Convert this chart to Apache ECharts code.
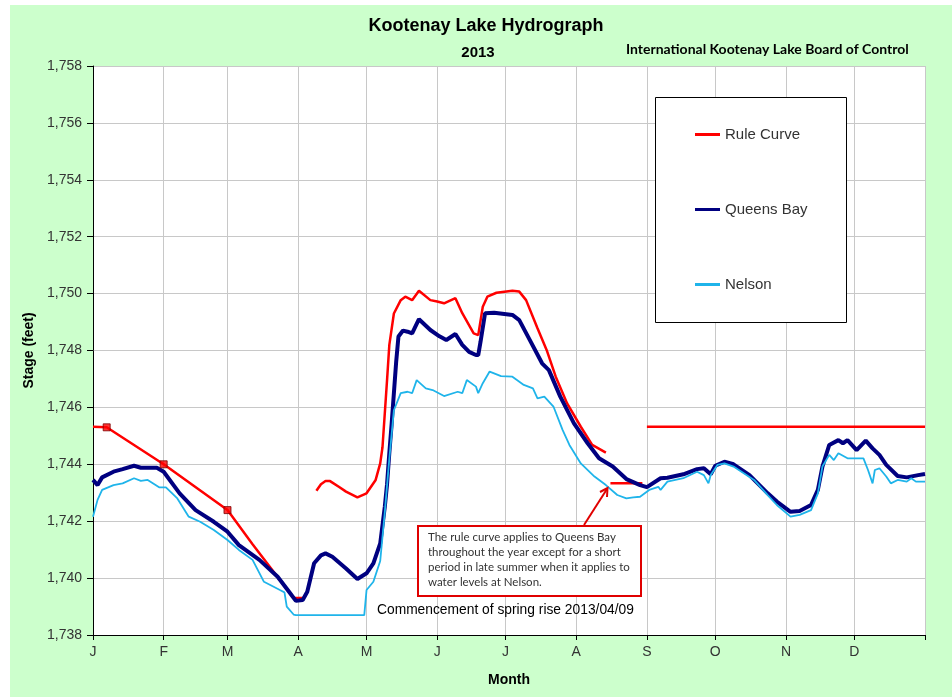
<!DOCTYPE html>
<html>
<head>
<meta charset="utf-8">
<script src="https://cdn.jsdelivr.net/npm/echarts@6/dist/echarts.min.js"></script>
<style>
html,body{margin:0;padding:0;background:#fff;}
#c{width:952px;height:697px;background:linear-gradient(#ccffcc,#ccffcc) 10px 5px / 942px 692px no-repeat,#ffffff;}
</style>
</head>
<body>
<div id="c"></div>
<script>
// ---- axis / tick labels ----
const monthLabels = ['J','F','M','A','M','J','J','A','S','O','N','D'];
const monthStarts = [0,31,59,90,120,151,181,212,243,273,304,334];
const dayCount = 365;
const yMin = 1738, yMax = 1758, yStep = 2;

// ---- series values: [day of year, stage (feet)] ----
const ruleCurveWinter = [[0,1745.32],[6,1745.3],[31,1744.0],[59,1742.39],[70,1741.19],[82,1739.93],[88,1739.3],[92,1739.3]];
const ruleCurveSpring = [[98,1743.07],[100,1743.3],[102,1743.41],[104,1743.41],[108,1743.2],[111,1743.04],[116,1742.84],[120,1742.98],[124,1743.45],[126,1744.03],[127,1744.6],[129,1746.96],[130,1748.2],[132,1749.3],[135,1749.77],[137,1749.89],[140,1749.77],[143,1750.1],[148,1749.77],[151,1749.72],[154,1749.66],[159,1749.84],[162,1749.31],[167,1748.6],[169,1748.54],[171,1749.54],[173,1749.89],[177,1750.03],[184,1750.1],[187,1750.07],[190,1749.77],[195,1748.78],[199,1748.02],[203,1747.08],[208,1746.14],[214,1745.32],[219,1744.68],[225,1744.41]];
const ruleCurveNelson = [[227,1743.33],[241,1743.33]];
const ruleCurveFall = [[243,1745.32],[365,1745.32]];
const ruleMarkers = [[6,1745.3],[31,1744.0],[59,1742.39]];

const queensBay = [[0,1743.45],[2,1743.27],[4,1743.54],[9,1743.74],[13,1743.83],[18,1743.95],[21,1743.88],[28,1743.88],[31,1743.74],[38,1742.98],[45,1742.39],[53,1741.98],[59,1741.63],[64,1741.16],[73,1740.64],[81,1740.05],[86,1739.52],[89,1739.2],[92,1739.23],[94,1739.52],[97,1740.52],[100,1740.8],[102,1740.87],[105,1740.75],[111,1740.34],[116,1739.97],[120,1740.17],[123,1740.52],[126,1741.22],[128,1742.5],[129,1743.3],[130,1744.4],[131,1745.4],[132,1746.5],[133,1747.6],[134,1748.49],[136,1748.7],[138,1748.66],[140,1748.6],[143,1749.1],[148,1748.72],[152,1748.5],[155,1748.37],[159,1748.58],[162,1748.2],[165,1747.95],[168,1747.84],[169,1747.84],[170,1748.3],[172,1749.31],[176,1749.33],[184,1749.25],[187,1749.07],[192,1748.31],[197,1747.55],[200,1747.31],[205,1746.38],[211,1745.44],[217,1744.74],[222,1744.21],[228,1743.92],[234,1743.48],[240,1743.27],[243,1743.2],[249,1743.51],[252,1743.53],[259,1743.65],[265,1743.83],[268,1743.86],[271,1743.65],[273,1743.95],[277,1744.09],[281,1744.0],[288,1743.62],[296,1742.98],[300,1742.69],[306,1742.33],[310,1742.36],[315,1742.57],[318,1743.1],[320,1743.92],[323,1744.68],[327,1744.85],[329,1744.74],[331,1744.85],[335,1744.5],[339,1744.83],[342,1744.56],[345,1744.33],[348,1743.98],[353,1743.59],[357,1743.54],[362,1743.62],[365,1743.66]];

const nelson = [[0,1742.16],[2,1742.75],[4,1743.1],[9,1743.27],[13,1743.33],[18,1743.51],[21,1743.42],[24,1743.45],[29,1743.19],[32,1743.19],[37,1742.8],[42,1742.16],[47,1741.98],[53,1741.69],[59,1741.34],[64,1740.99],[70,1740.64],[75,1739.87],[82,1739.58],[84,1739.5],[85,1739.0],[88,1738.72],[89,1738.7],[119,1738.7],[120,1739.58],[123,1739.87],[126,1740.6],[128,1742.3],[130,1744.2],[132,1745.9],[135,1746.5],[138,1746.55],[140,1746.5],[142,1746.96],[146,1746.67],[149,1746.61],[154,1746.4],[160,1746.55],[162,1746.5],[164,1746.96],[168,1746.73],[169,1746.5],[171,1746.85],[174,1747.26],[179,1747.1],[184,1747.08],[189,1746.79],[193,1746.67],[195,1746.32],[198,1746.38],[202,1746.03],[206,1745.21],[209,1744.68],[214,1744.03],[220,1743.57],[225,1743.27],[230,1742.92],[234,1742.8],[237,1742.84],[240,1742.86],[244,1743.1],[248,1743.21],[249,1743.1],[252,1743.39],[259,1743.51],[265,1743.74],[268,1743.62],[270,1743.33],[271,1743.62],[274,1743.98],[277,1744.03],[281,1743.92],[290,1743.45],[296,1742.92],[300,1742.57],[306,1742.16],[310,1742.22],[315,1742.39],[318,1742.98],[320,1743.92],[323,1744.33],[325,1744.15],[327,1744.39],[331,1744.21],[338,1744.21],[340,1743.8],[342,1743.33],[343,1743.8],[345,1743.86],[348,1743.57],[350,1743.33],[353,1743.45],[357,1743.39],[359,1743.51],[361,1743.39],[365,1743.39]];

// ---- build chart ----
const days = [];
for (let i = 0; i <= dayCount; i++) days.push(String(i));
const isMonthStart = (i) => monthStarts.indexOf(i) >= 0;
const isGrid = (i) => isMonthStart(i) || i === dayCount;

const RED = '#ff0000', NAVY = '#000080', CYAN = '#1fb4ea';
const FONT = '"Liberation Sans", Arial, sans-serif';

function ruleSeries(data) {
  return {
    name: 'Rule Curve', type: 'line', data: data, showSymbol: false, symbol: 'none',
    lineStyle: {color: RED, width: 2.5}, itemStyle: {color: RED}, z: 2,
    silent: true, animation: false
  };
}

const chart = echarts.init(document.getElementById('c'), null, {renderer: 'canvas'});
chart.setOption({
  backgroundColor: 'transparent',
  animation: false,
  title: [
    {text: 'Kootenay Lake Hydrograph', left: 481, top: 12, textAlign: 'center',
     textStyle: {fontFamily: FONT, fontSize: 18, fontWeight: 'bold', color: '#000'}},
    {text: '2013', left: 473, top: 40, textAlign: 'center',
     textStyle: {fontFamily: FONT, fontSize: 15, fontWeight: 'bold', color: '#000'}},
    {text: 'International Kootenay Lake Board of Control', left: 621, top: 37,
     textStyle: {fontFamily: 'Lato, "Open Sans", sans-serif', fontSize: 14, fontWeight: 'bold', color: '#000'}}
  ],
  grid: {left: 93, right: 27, top: 66, bottom: 62, show: true, backgroundColor: '#ffffff', borderWidth: 0},
  legend: {
    orient: 'vertical', left: 690, top: 122, itemGap: 60, itemWidth: 25, itemHeight: 3,
    icon: 'rect', selectedMode: false,
    textStyle: {fontFamily: FONT, fontSize: 15, color: '#333'},
    data: [
      {name: 'Rule Curve', itemStyle: {color: RED}},
      {name: 'Queens Bay', itemStyle: {color: NAVY}},
      {name: 'Nelson', itemStyle: {color: CYAN}}
    ]
  },
  xAxis: {
    type: 'category', data: days, boundaryGap: false,
    name: 'Month', nameLocation: 'middle', nameGap: 38,
    nameTextStyle: {fontFamily: FONT, fontSize: 14, fontWeight: 'bold', color: '#000'},
    axisLine: {lineStyle: {color: '#000', width: 1}},
    axisTick: {show: true, interval: (i) => isGrid(i), length: 5, lineStyle: {color: '#000'}},
    axisLabel: {interval: (i) => isMonthStart(i), margin: 10,
      formatter: (v, i) => { const k = monthStarts.indexOf(Number(v)); return k >= 0 ? monthLabels[k] : ''; },
      fontFamily: FONT, fontSize: 14, color: '#333'},
    splitLine: {show: true, interval: (i) => isGrid(i), lineStyle: {color: '#c8c8c8', width: 1}}
  },
  yAxis: {
    type: 'value', min: yMin, max: yMax, interval: yStep,
    name: 'Stage (feet)', nameLocation: 'middle', nameGap: 56,
    nameTextStyle: {fontFamily: FONT, fontSize: 14, fontWeight: 'bold', color: '#000'},
    axisLine: {show: true, lineStyle: {color: '#000', width: 1}},
    axisTick: {show: true, length: 6, lineStyle: {color: '#000'}},
    axisLabel: {margin: 11, fontFamily: FONT, fontSize: 14, color: '#333',
      formatter: (v) => String(v).replace(/^(\d)(\d{3})$/, '$1,$2')},
    splitLine: {show: true, lineStyle: {color: '#c8c8c8', width: 1}}
  },
  series: [
    ruleSeries(ruleCurveWinter),
    ruleSeries(ruleCurveSpring),
    ruleSeries(ruleCurveNelson),
    ruleSeries(ruleCurveFall),
    {name: 'markers', type: 'scatter', data: ruleMarkers, symbol: 'rect', symbolSize: 7,
     itemStyle: {color: RED, borderColor: '#7a0000', borderWidth: 1}, z: 4, silent: true},
    {name: 'Queens Bay', type: 'line', data: queensBay, showSymbol: false, symbol: 'none',
     lineStyle: {color: NAVY, width: 4}, itemStyle: {color: NAVY}, z: 3, silent: true},
    {name: 'Nelson', type: 'line', data: nelson, showSymbol: false, symbol: 'none',
     lineStyle: {color: CYAN, width: 1.8}, itemStyle: {color: CYAN}, z: 3, silent: true}
  ],
  graphic: [
    {type: 'rect', shape: {x: 655.5, y: 97.5, width: 191, height: 225}, z: 1,
     style: {fill: '#ffffff', stroke: '#000', lineWidth: 1}},
    {type: 'text', left: 377, top: 603, z: 10,
     style: {text: 'Commencement of spring rise 2013/04/09', font: '13.8px "Liberation Sans", Arial, sans-serif', fill: '#000'}},
    {type: 'rect', shape: {x: 418, y: 526, width: 223, height: 70}, z: 10,
     style: {fill: '#ffffff', stroke: '#e00000', lineWidth: 2}},
    {type: 'text', left: 428, top: 530, z: 11,
     style: {text: 'The rule curve applies to Queens Bay\nthroughout the year except for a short\nperiod in late summer when it applies to\nwater levels at Nelson.',
       font: '11.5px Lato, "Open Sans", sans-serif', fill: '#333', lineHeight: 15}},
    {type: 'line', shape: {x1: 584, y1: 525, x2: 607, y2: 489}, z: 10,
     style: {stroke: '#e00000', lineWidth: 2}},
    {type: 'polyline', shape: {points: [[600, 492], [607.5, 488], [607, 497]]}, z: 10,
     style: {stroke: '#e00000', lineWidth: 2, fill: null}}
  ]
});
</script>
</body>
</html>
